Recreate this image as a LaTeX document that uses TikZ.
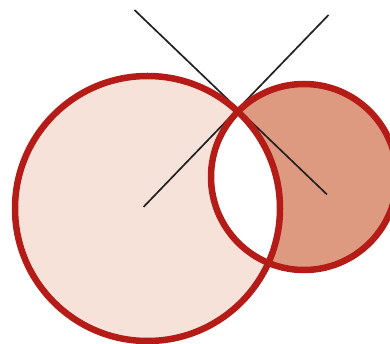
\documentclass[tikz,border=0pt]{standalone}
\definecolor{lfill}{HTML}{F7E2D9}
\definecolor{rfill}{HTML}{DE9A80}
\definecolor{ring}{HTML}{B51C17}
\definecolor{ink}{HTML}{222222}
\begin{document}
\begin{tikzpicture}[x=1pt,y=-1pt,
  ringline/.style={draw=ring,line width=6.5pt},
  thin line/.style={draw=ink,line width=1.7pt}]
\useasboundingbox (0,0) rectangle (390,344);
\clip (0,0) rectangle (390,344);
\coordinate (cl) at (147.5,208.5);
\coordinate (cr) at (304,177);
\fill[lfill] (cl) circle (132.5);
\fill[rfill] (cr) circle (93);
\begin{scope}
  \clip (cl) circle (132.5);
  \fill[white] (cr) circle (93);
\end{scope}
\coordinate (a1) at (134.5,10);
\coordinate (a2) at (327,194.5);
\coordinate (b1) at (143.5,207);
\coordinate (b2) at (328.5,15);
\draw[thin line] (a1) -- (a2);
\draw[thin line] (b1) -- (b2);
\draw[ringline] (cl) circle (132.5);
\draw[ringline] (cr) circle (93);
\end{tikzpicture}
\end{document}
